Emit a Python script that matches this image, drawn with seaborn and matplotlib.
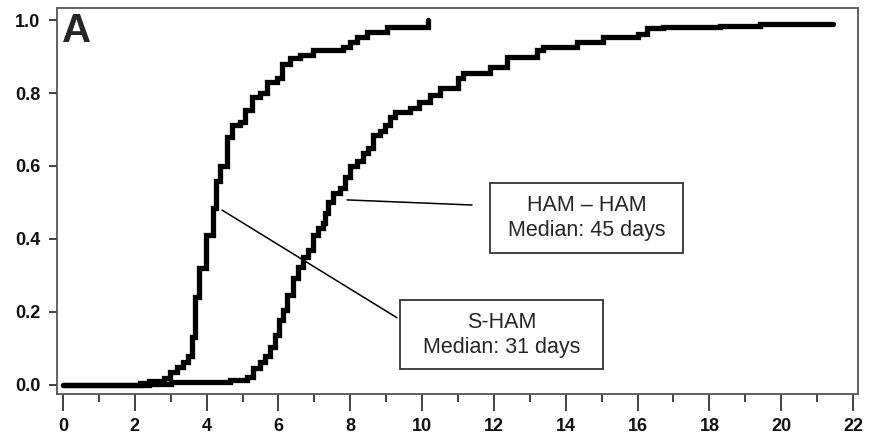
import matplotlib
matplotlib.use("Agg")
import matplotlib.pyplot as plt
import matplotlib.patches as mpatches
import seaborn as sns
import numpy as np
from matplotlib.ticker import MultipleLocator

sns.set_style("white")
plt.rcParams['font.family'] = ['Liberation Sans', 'DejaVu Sans']

# S-HAM cumulative proportion (step function)
s_ham_x = [0.0, 2.15, 2.4, 2.8, 2.98, 3.17, 3.35, 3.48, 3.6, 3.68, 3.78, 3.97, 4.18, 4.26, 4.37,
           4.57, 4.7, 4.93, 5.07, 5.26, 5.49, 5.68, 5.96, 6.1, 6.32, 6.6, 6.96, 7.8, 8.0, 8.2,
           8.47, 9.02, 10.15, 10.17]
s_ham_y = [0.0, 0.005, 0.012, 0.02, 0.036, 0.05, 0.063, 0.08, 0.13, 0.24, 0.32, 0.41, 0.485, 0.56, 0.60,
           0.68, 0.712, 0.72, 0.753, 0.79, 0.80, 0.83, 0.84, 0.88, 0.895, 0.905, 0.918, 0.926, 0.94, 0.953,
           0.967, 0.98, 0.98, 1.0]

# HAM-HAM cumulative proportion (step function)
ham_x = [0.0, 2.4, 3.0, 4.65, 5.12, 5.3, 5.49, 5.63, 5.77, 5.9, 6.02, 6.13, 6.24, 6.4, 6.55, 6.69,
         6.82, 6.96, 7.1, 7.24, 7.3, 7.38, 7.52, 7.7, 7.85, 8.0, 8.2, 8.36, 8.5, 8.64, 8.83, 8.97,
         9.1, 9.25, 9.67, 9.9, 10.22, 10.5, 11.0, 11.15, 11.9, 12.37, 13.2, 13.37, 14.3, 15.05,
         16.0, 16.27, 16.7, 18.3, 19.4, 21.45]
ham_y = [0.0, 0.003, 0.008, 0.014, 0.022, 0.047, 0.064, 0.08, 0.104, 0.137, 0.178, 0.205, 0.246, 0.293,
         0.323, 0.35, 0.37, 0.41, 0.43, 0.444, 0.47, 0.50, 0.525, 0.54, 0.57, 0.60, 0.615, 0.635, 0.65,
         0.685, 0.695, 0.712, 0.735, 0.748, 0.758, 0.775, 0.795, 0.813, 0.84, 0.855, 0.87, 0.90, 0.918,
         0.926, 0.94, 0.953, 0.963, 0.978, 0.982, 0.983, 0.99, 0.99]

y_ticks = [0.0, 0.2, 0.4, 0.6, 0.8, 1.0]
y_tick_labels = ["0.0", "0.2", "0.4", "0.6", "0.8", "1.0"]

labels = ['HAM \u2013 HAM\nMedian: 45 days', 'S-HAM\nMedian: 31 days']

fig = plt.figure(figsize=(8.72, 4.37), dpi=100)
ax = fig.add_axes([0.0654, 0.0984, 0.9186, 0.8833])

sns.lineplot(x=s_ham_x, y=s_ham_y, ax=ax, drawstyle='steps-post', color='black', lw=3.8,
             solid_joinstyle='miter', estimator=None, sort=False)
sns.lineplot(x=ham_x, y=ham_y, ax=ax, drawstyle='steps-post', color='black', lw=3.8,
             solid_joinstyle='miter', estimator=None, sort=False)

ax.set_xlim(-0.167, 22.14)
ax.set_ylim(-0.025, 1.033)
ax.xaxis.set_major_locator(MultipleLocator(2))
ax.xaxis.set_minor_locator(MultipleLocator(1))
ax.set_yticks(y_ticks)
ax.set_yticklabels(y_tick_labels)
for lbl in ax.get_xticklabels() + ax.get_yticklabels():
    lbl.set_fontweight('bold')
    lbl.set_color('#111111')
ax.tick_params(axis='x', which='major', direction='out', length=12, width=1.3, color='#333333',
               labelsize=13, pad=5)
ax.tick_params(axis='x', which='minor', direction='out', length=6, width=1.3, color='#333333')
ax.tick_params(axis='y', which='major', direction='out', length=6, width=1.3, color='#333333',
               labelsize=13, pad=6, left=True)
ax.tick_params(bottom=True, which='both')
for s in ax.spines.values():
    s.set_color('#555555')
    s.set_linewidth(1.3)
ax.set_xlabel('')
ax.set_ylabel('')

ax.text(0.006, 0.912, 'A', transform=ax.transAxes, fontsize=29, fontweight='bold',
        va='baseline', ha='left')

# Annotations: leader lines, boxes, texts
ax.plot([7.91, 11.39], [0.507, 0.493], color='black', lw=1.1)
ax.plot([4.43, 9.30], [0.479, 0.184], color='black', lw=1.1)
ax.add_patch(mpatches.Rectangle((11.89, 0.362), 17.27 - 11.89, 0.553 - 0.362,
                                fc='white', ec='#333333', lw=1.3, zorder=3))
ax.add_patch(mpatches.Rectangle((9.39, 0.044), 15.04 - 9.39, 0.233 - 0.044,
                                fc='white', ec='#333333', lw=1.3, zorder=3))
ax.text(14.58, 0.4575, labels[0], fontsize=15.5, ha='center', va='center',
        linespacing=1.25, zorder=4)
ax.text(12.21, 0.138, labels[1], fontsize=15.5, ha='center', va='center',
        linespacing=1.25, zorder=4)

fig.savefig('out.png', dpi=100)
